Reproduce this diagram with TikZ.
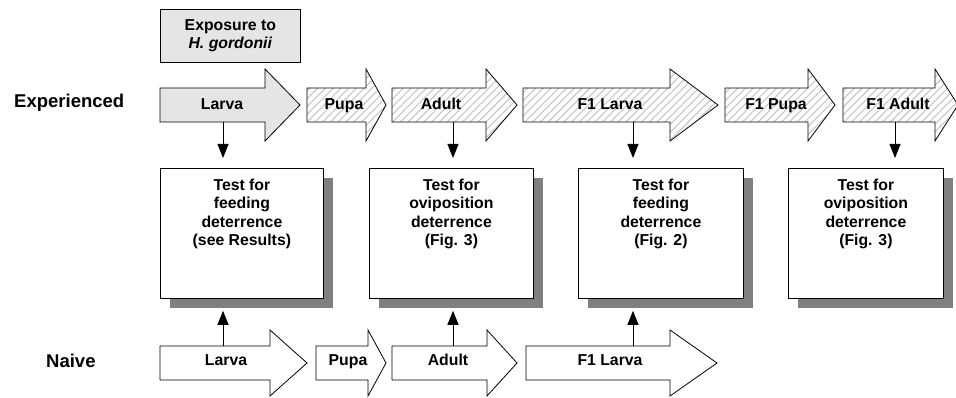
\documentclass[tikz,border=0pt]{standalone}
\usepackage{fontspec}
\setmainfont{Liberation Sans}
\usetikzlibrary{arrows.meta,patterns.meta,shadows}
\newcommand{\bigarr}[7]{%
  \draw[#1] (#2,#5-#6) -- (#3,#5-#6) -- (#3,#5-#7) -- (#4,#5) -- (#3,#5+#7) -- (#3,#5+#6) -- (#2,#5+#6) -- cycle;}
\begin{document}
\begin{tikzpicture}[x=1pt,y=-1pt,
  outl/.style={draw=black,line width=0.8pt,line join=miter},
  grayarr/.style={outl,fill=black!10},
  whitearr/.style={outl,fill=white},
  hatcharr/.style={outl,preaction={fill=white},pattern={Lines[angle=45,distance=5.5pt,line width=1.1pt]},pattern color=black!22},
  lbl/.style={font=\fontsize{15.8}{18.3}\selectfont\bfseries,inner sep=0pt,anchor=base},
  rowlbl/.style={font=\fontsize{18.5}{20}\selectfont\bfseries,inner sep=0pt,anchor=base west},
  tbox/.style={draw=black,line width=0.8pt,fill=white,anchor=north west,minimum height=130pt,
    drop shadow={shadow xshift=10pt,shadow yshift=-10pt,fill=black!50,opacity=1}},
  boxtxt/.style={font=\fontsize{15.8}{18.3}\selectfont\bfseries,inner sep=0pt,align=center,anchor=north},
  conn/.style={line width=1pt,-{Triangle[width=11pt,length=14pt]}}
]
\useasboundingbox (0,0) rectangle (956,398);

% exposure box
\node[draw=black,line width=0.8pt,fill=black!10,anchor=north west,minimum width=140pt,minimum height=53pt,
  align=center,font=\fontsize{15.8}{18.3}\selectfont\bfseries] (expo) at (160,9)
  {Exposure to\\\textit{H. gordonii}};

% row labels
\node[rowlbl] (exper) at (14,108) {Experienced};
\node[rowlbl] (naive) at (46,367) {Naive};

% top row arrows
\bigarr{grayarr}{160}{265}{300}{105}{17}{36}
\bigarr{hatcharr}{307}{366}{386}{105}{17}{36}
\bigarr{hatcharr}{392}{486}{517}{105}{17}{36}
\bigarr{hatcharr}{523}{670}{718}{105}{17}{36}
\bigarr{hatcharr}{725}{808}{835}{105}{17}{36}
\bigarr{hatcharr}{843}{935}{958}{105}{17}{36}
\node[lbl] (tLarva) at (222,110) {Larva};
\node[lbl] (tPupa) at (344,110) {Pupa};
\node[lbl] (tAdult) at (441,110) {Adult};
\node[lbl] (tF1Larva) at (610,110) {F1 Larva};
\node[lbl] (tF1Pupa) at (776,110) {F1 Pupa};
\node[lbl] (tF1Adult) at (898,110) {F1 Adult};

% bottom row arrows
\bigarr{whitearr}{160}{270}{307}{363}{17}{33}
\bigarr{whitearr}{316}{368}{386}{363}{17}{33}
\bigarr{whitearr}{392}{487}{517}{363}{17}{33}
\bigarr{whitearr}{526}{670}{717}{363}{17}{33}
\node[lbl] (bLarva) at (226,365) {Larva};
\node[lbl] (bPupa) at (348,365) {Pupa};
\node[lbl] (bAdult) at (448,365) {Adult};
\node[lbl] (bF1Larva) at (610,365) {F1 Larva};

% test boxes
\node[tbox,minimum width=163pt] (b1) at (160,168) {};
\node[tbox,minimum width=164pt] (b2) at (369,168) {};
\node[tbox,minimum width=165pt] (b3) at (578,168) {};
\node[tbox,minimum width=155pt] (b4) at (788,168) {};
\node[boxtxt] (t1) at ([yshift=-11pt]b1.north) {Test for\\feeding\\deterrence\\(see Results)};
\node[boxtxt] (t2) at ([yshift=-11pt]b2.north) {Test for\\oviposition\\deterrence\\(Fig. 3)};
\node[boxtxt] (t3) at ([yshift=-11pt]b3.north) {Test for\\feeding\\deterrence\\(Fig. 2)};
\node[boxtxt] (t4) at ([yshift=-11pt]b4.north) {Test for\\oviposition\\deterrence\\(Fig. 3)};

% connector anchors
\coordinate (d1) at (223,122);
\coordinate (d2) at (453,122);
\coordinate (d3) at (633,122);
\coordinate (d4) at (895,122);
\coordinate (u1) at (223,346);
\coordinate (u2) at (453,346);
\coordinate (u3) at (633,346);

\draw[conn,shorten >=10pt] (d1) -- (d1 |- b1.north);
\draw[conn,shorten >=10pt] (d2) -- (d2 |- b2.north);
\draw[conn,shorten >=10pt] (d3) -- (d3 |- b3.north);
\draw[conn,shorten >=10pt] (d4) -- (d4 |- b4.north);
\draw[conn,shorten >=12pt] (u1) -- (u1 |- b1.south);
\draw[conn,shorten >=12pt] (u2) -- (u2 |- b2.south);
\draw[conn,shorten >=12pt] (u3) -- (u3 |- b3.south);
\end{tikzpicture}
\end{document}
